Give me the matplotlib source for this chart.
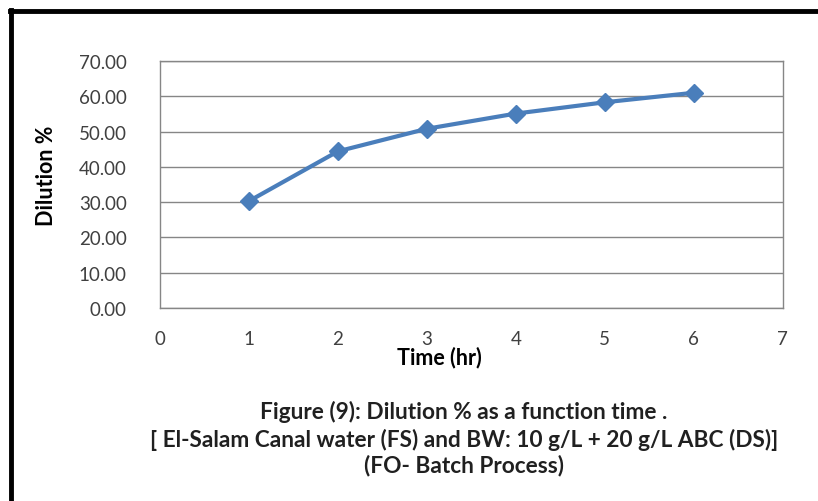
import matplotlib
matplotlib.use("Agg")
import matplotlib.pyplot as plt
from matplotlib.lines import Line2D

# data
time_hr = [1, 2, 3, 4, 5, 6]
dilution = [30.3, 44.4, 50.8, 55.1, 58.3, 61.0]
x_ticks = [0, 1, 2, 3, 4, 5, 6, 7]
y_ticks = [0, 10, 20, 30, 40, 50, 60, 70]

plt.rcParams['font.family'] = ['Lato', 'DejaVu Sans']

fig = plt.figure(figsize=(8.18, 5.02), dpi=100)
ax = fig.add_axes([0.1956, 0.3845, 0.7614, 0.492])

ax.plot(time_hr, dilution, color='#4A7EBB', lw=3, marker='D', ms=9,
        markeredgecolor='#4A7EBB', zorder=3)

ax.set_xlim(0, 7)
ax.set_ylim(0, 70)
ax.set_xticks(x_ticks)
ax.set_yticks(y_ticks)
ax.set_yticklabels(['%.2f' % v for v in y_ticks])
ax.tick_params(axis='both', length=0, labelsize=13.5, labelcolor='#404040')
ax.tick_params(axis='x', pad=16)
ax.tick_params(axis='y', pad=24)
ax.grid(axis='y', color='#868686', lw=1)
ax.set_axisbelow(True)
for s in ax.spines.values():
    s.set_color('#868686')
    s.set_linewidth(1)

ax.set_xlabel('Time (hr)', fontsize=15.5, fontweight='bold', va='center')
ax.xaxis.set_label_coords(0.449, -0.198)
ax.set_ylabel('Dilution %', fontsize=15.5, fontweight='bold', va='center')
ax.yaxis.set_label_coords(-0.183, 0.538)

title_lines = ['Figure (9): Dilution % as a function time .',
               '[ El-Salam Canal water (FS) and BW: 10 g/L + 20 g/L ABC (DS)]',
               '(FO- Batch Process)']
for txt, yy in zip(title_lines, [0.179, 0.124, 0.072]):
    fig.text(0.567, yy, txt, ha='center', va='center', fontsize=16.3,
             fontweight='bold', color='#202020')

# black frame on top and left like the scanned figure
fig.add_artist(Line2D([0.012, 1.0], [0.977, 0.977], color='black', lw=3.5,
                      transform=fig.transFigure))
fig.add_artist(Line2D([0.013, 0.013], [0.0, 0.979], color='black', lw=3.5,
                      transform=fig.transFigure))

fig.savefig('out.png', dpi=100)
